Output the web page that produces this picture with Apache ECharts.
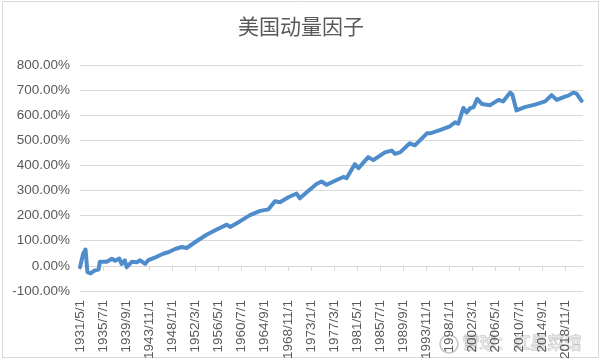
<!DOCTYPE html>
<html>
<head>
<meta charset="utf-8">
<script src="https://cdn.jsdelivr.net/npm/echarts@6/dist/echarts.min.js"></script>
<style>
html,body{margin:0;padding:0;background:#fff;}
#chart{width:602px;height:362px;}
</style>
</head>
<body>
<div id="chart"></div>
<script>
// Month index counted from 1931/5 (0 = 1931/5/1)
const monthIndex = [0,7,12,16,23,32,40,43,58,69,76,85,90,97,101,112,123,130,141,148,166,180,191,206,220,231,253,274,296,318,325,346,368,390,408,422,433,451,469,476,494,512,523,534,552,570,577,595,603,624,635,660,675,682,693,714,725,736,751,758,779,801,812,819,830,837,844,852,860,870,888,906,916,931,936,945,963,985,1007,1021,1032,1050,1057,1068,1075,1086];
// Cumulative return (%)
const values = [-5,49,65,-25,-30,-18,-15,16,16,28,20,29,8,22,-5,16,14,22,8,23,36,48,54,67,75,71,99,124,145,164,155,177,202,219,225,257,253,273,288,269,298,326,336,323,339,354,349,405,389,433,421,452,459,446,452,488,480,500,528,528,541,556,572,566,629,610,627,632,665,645,640,661,655,690,682,619,632,642,655,680,661,674,678,690,686,657];
const yTicks = [-100,0,100,200,300,400,500,600,700,800];
const title = '美国动量因子';
const watermark = '雪球：红星菜馆';

function idxToDate(m){
  const t = 4 + m;
  return (1931 + Math.floor(t/12)) + '/' + (t%12 + 1) + '/1';
}

const chart = echarts.init(document.getElementById('chart'));
chart.setOption({
  animation:false,
  backgroundColor:'#fff',
  title:{
    text:title, left:'center', top:11,
    textStyle:{fontFamily:'Noto Sans CJK SC', fontSize:21, fontWeight:'normal', color:'#595959'}
  },
  grid:{left:80, right:19, top:65, bottom:60, containLabel:false},
  xAxis:{
    type:'value', min:0, max:1089, interval:50,
    axisLine:{onZero:true, lineStyle:{color:'#d9d9d9', width:1}},
    axisTick:{show:true, length:5, lineStyle:{color:'#d9d9d9'}},
    splitLine:{show:false},
    axisLabel:{
      rotate:90, margin:9, color:'#595959', fontSize:13.5, fontFamily:'Liberation Sans',
      showMaxLabel:false,
      formatter:function(v){ return (v % 50 === 0) ? idxToDate(v) : ''; }
    }
  },
  yAxis:{
    type:'value', min:yTicks[0], max:yTicks[yTicks.length-1], interval:100,
    axisLine:{show:false, onZero:false},
    axisTick:{show:false},
    splitLine:{lineStyle:{color:'#d9d9d9', width:1}},
    axisLabel:{
      margin:10, color:'#595959', fontSize:13.5, fontFamily:'Liberation Sans',
      formatter:function(v){ return v.toFixed(2) + '%'; }
    }
  },
  series:[{
    type:'line',
    data: monthIndex.map((m,i)=>[m, values[i]]),
    showSymbol:false,
    lineStyle:{color:'#4e8ccb', width:4, join:'round', cap:'round'},
    itemStyle:{color:'#4e8ccb'}
  }],
  graphic:[
    {type:'rect', shape:{x:2.5, y:1.5, width:596, height:356}, style:{fill:'none', stroke:'#d9d9d9', lineWidth:1}, silent:true},
    {type:'circle', shape:{cx:449, cy:344, r:9}, style:{fill:'none', stroke:'rgba(150,150,150,0.55)', lineWidth:1.5}, silent:true},
    {type:'text', left:462, top:334, style:{text:watermark, fontFamily:'Noto Sans CJK SC', fontSize:17, fill:'rgba(255,255,255,0.6)', stroke:'rgba(140,140,140,0.55)', lineWidth:1}, silent:true}
  ]
});
</script>
</body>
</html>
